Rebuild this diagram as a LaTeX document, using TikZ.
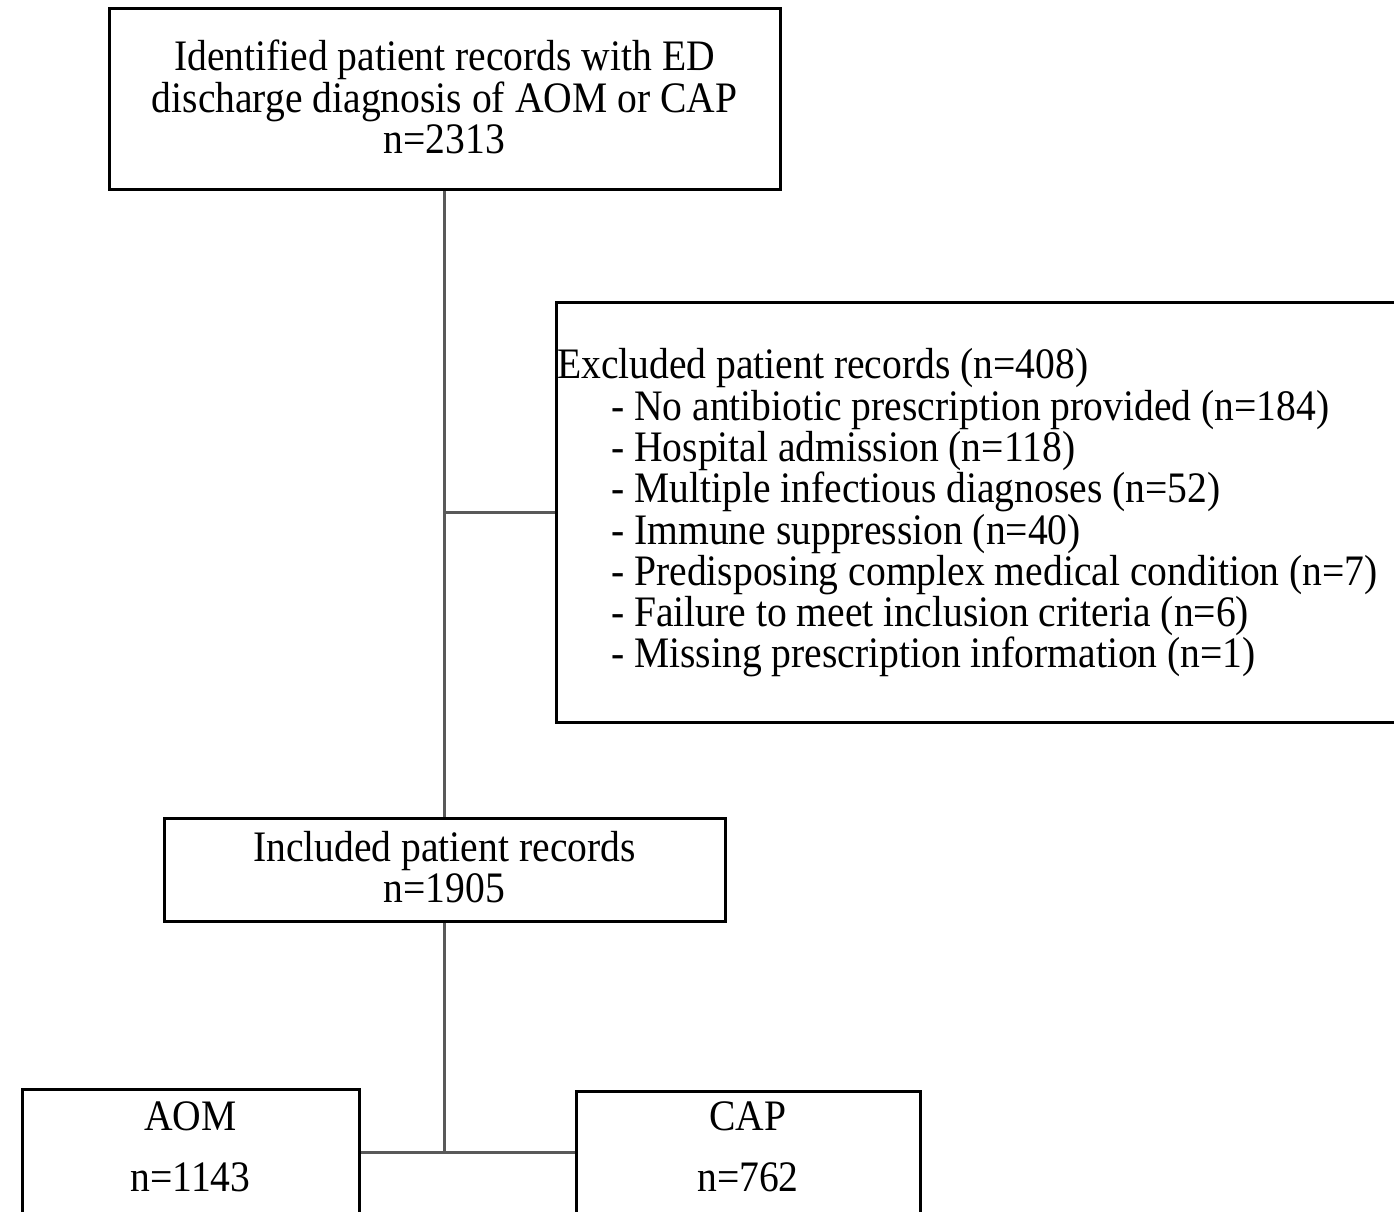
\documentclass[tikz,border=0pt]{standalone}
\usepackage{fontspec}
\setmainfont{Liberation Serif}[FakeStretch=0.91]
\begin{document}
\begin{tikzpicture}[x=1pt,y=-1pt,
  box/.style={draw=black,line width=3pt,inner sep=0pt},
  conn/.style={draw=black!65,line width=3pt},
  txt/.style={font=\fontsize{43.5}{41.3}\selectfont,align=center,inner sep=0pt},
  ltxt/.style={font=\fontsize{43.5}{41.3}\selectfont,align=left,inner sep=0pt}]
\useasboundingbox (0,0) rectangle (1394,1211);
\clip (0,0) rectangle (1394,1211);
% boxes
\node[box,minimum width=671pt,minimum height=181pt] (top) at (444.5,98.5) {};
\node[txt] (toptext) at (444.5,97) {Identified patient records with ED\\discharge diagnosis of AOM or CAP\\n=2313};
\node[box,minimum width=880pt,minimum height=420pt] (excl) at (996,512) {};
\node[ltxt,anchor=west] (excltext) at (557,513) {Excluded patient records (n=408)\\
\hspace*{54pt}- No antibiotic prescription provided (n=184)\\
\hspace*{54pt}- Hospital admission (n=118)\\
\hspace*{54pt}- Multiple infectious diagnoses (n=52)\\
\hspace*{54pt}- Immune suppression (n=40)\\
\hspace*{54pt}- Predisposing complex medical condition (n=7)\\
\hspace*{54pt}- Failure to meet inclusion criteria (n=6)\\
\hspace*{54pt}- Missing prescription information (n=1)};
\node[box,minimum width=561pt,minimum height=103pt] (inc) at (444.5,869.5) {};
\node[txt] (inctext) at (444.5,867) {Included patient records\\n=1905};
\node[box,minimum width=337pt,minimum height=126pt] (aom) at (190.5,1152) {};
\node[txt,font=\fontsize{43.5}{61}\selectfont] (aomtext) at (190.5,1147) {AOM\\n=1143};
\node[box,minimum width=344pt,minimum height=124pt] (cap) at (748,1153) {};
\node[txt,font=\fontsize{43.5}{61}\selectfont] (captext) at (748,1147) {CAP\\n=762};
% connectors
\draw[conn] (top.south) -- (inc.north);
\draw[conn] (top.south |- excl.west) -- (excl.west);
\draw[conn] (inc.south) -- (inc.south |- aom.east);
\draw[conn] (aom.east) -- (cap.west |- aom.east);
\end{tikzpicture}
\end{document}
